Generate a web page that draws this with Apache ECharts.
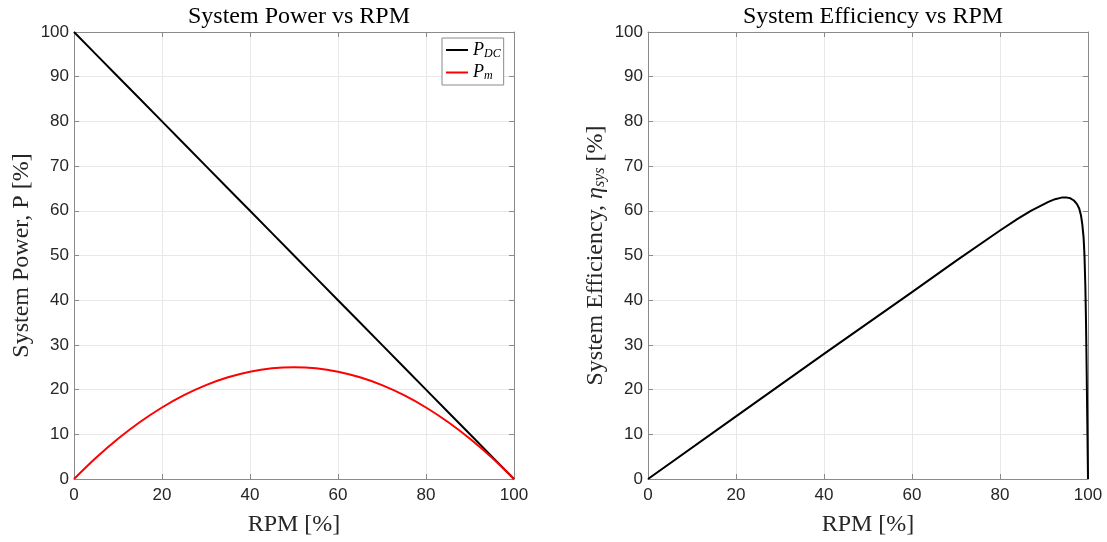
<!DOCTYPE html>
<html><head><meta charset="utf-8">
<script src="https://cdn.jsdelivr.net/npm/echarts@6/dist/echarts.min.js"></script>
<style>html,body{margin:0;padding:0;background:#fff}#c{width:1107px;height:542px}</style>
</head><body><div id="c"></div>
<script>
// Left chart data
var rpm = [0,5,10,15,20,25,30,35,40,45,50,55,60,65,70,75,80,85,90,95,100];
var pDC = [100,95,90,85,80,75,70,65,60,55,50,45,40,35,30,25,20,15,10,5,0];
var pM  = [0,4.75,9,12.75,16,18.75,21,22.75,24,24.75,25,24.75,24,22.75,21,18.75,16,12.75,9,4.75,0];
// Right chart data
var effRpm = [0,20,40,60,70,80,84,87,89,91,92.5,94,95,96,96.8,97.5,98,98.4,98.7,99,99.2,99.4,99.55,99.7,99.85,100];
var effVal = [0,14,28,41.8,48.8,55.6,58.2,60.0,61.0,62.0,62.6,62.95,63.0,62.8,62.3,61.5,60.5,59.0,57.0,54.0,50,43,35,24,12,0];
var ticksX = [0,20,40,60,80,100];
var ticksY = [0,10,20,30,40,50,60,70,80,90,100];

function pairs(xs, ys){ return xs.map(function(x,i){return [x, ys[i]];}); }

var axisCol = '#8a8a8a', labCol = '#262626', gridCol = '#e8e8e8';
var serif = 'Liberation Serif';
var sans = 'Liberation Sans';

function mkX(gi, pos, withLabels){
  return {
    type:'value', gridIndex:gi, position:pos, min:0, max:100, interval:20,
    axisLine:{show:true, onZero:false, lineStyle:{color:axisCol, width:1}},
    axisTick:{show:true, inside:true, length:5, lineStyle:{color:axisCol}},
    axisLabel:{show:withLabels, color:labCol, fontFamily:sans, fontSize:17, margin:8},
    splitLine:{show:withLabels, lineStyle:{color:gridCol, width:1}},
    name: withLabels ? 'RPM [%]' : '',
    nameLocation:'middle', nameGap:34,
    nameTextStyle:{fontFamily:serif, fontSize:24, color:labCol}
  };
}
function mkY(gi, pos, withLabels, name){
  return {
    type:'value', gridIndex:gi, position:pos, min:0, max:100, interval:10,
    axisLine:{show:true, onZero:false, lineStyle:{color:axisCol, width:1}},
    axisTick:{show:true, inside:true, length:5, lineStyle:{color:axisCol}},
    axisLabel:{show:withLabels, color:labCol, fontFamily:sans, fontSize:17, margin:5},
    splitLine:{show:withLabels, lineStyle:{color:gridCol, width:1}},
    name: withLabels ? name : '',
    nameLocation:'middle', nameGap:40, nameRotate:90,
    nameTextStyle:{fontFamily:serif, fontSize:24, color:labCol,
      rich:{
        i:{fontFamily:serif, fontSize:24, fontStyle:'italic', color:labCol},
        s:{fontFamily:serif, fontSize:16, fontStyle:'italic', color:labCol, padding:[9,0,0,0]}
      }}
  };
}

var chart = echarts.init(document.getElementById('c'), null, {renderer:'canvas'});
chart.setOption({
  animation:false,
  backgroundColor:'#fff',
  title:[
    {text:'System Power vs RPM', left:294, top:0, textAlign:'center',
     textStyle:{fontFamily:serif, fontSize:24, fontWeight:'normal', color:'#000'}},
    {text:'System Efficiency vs RPM', left:868, top:0, textAlign:'center',
     textStyle:{fontFamily:serif, fontSize:24, fontWeight:'normal', color:'#000'}}
  ],
  grid:[
    {left:74, top:32, width:440, height:451},
    {left:648, top:32, width:440, height:451}
  ],
  legend:{
    show:true, left:442, top:38, orient:'vertical',
    data:['P_DC','P_m'],
    backgroundColor:'#fff', borderColor:'#8a8a8a', borderWidth:1,
    padding:[3,3,3,4], itemGap:4, itemWidth:22, itemHeight:12,
    icon:'path://M0,5L22,5L22,7L0,7Z',
    formatter:function(n){ return n==='P_DC' ? '{i|P}{s|DC}' : '{i|P}{s|m}'; },
    textStyle:{color:'#000', fontFamily:serif, fontSize:18,
      rich:{
        i:{fontFamily:serif, fontSize:18, fontStyle:'italic', color:'#000'},
        s:{fontFamily:serif, fontSize:12, fontStyle:'italic', color:'#000', padding:[7,0,0,0]}
      }}
  },
  xAxis:[mkX(0,'bottom',true), mkX(0,'top',false), mkX(1,'bottom',true), mkX(1,'top',false)],
  yAxis:[mkY(0,'left',true,'System Power, P [%]'), mkY(0,'right',false,''),
         mkY(1,'left',true,'System Efficiency, {i|η}{s|sys} [%]'), mkY(1,'right',false,'')],
  series:[
    {name:'P_DC', type:'line', xAxisIndex:0, yAxisIndex:0, data:pairs(rpm,pDC),
     showSymbol:false, lineStyle:{color:'#000', width:2}, itemStyle:{color:'#000'}},
    {name:'P_m', type:'line', xAxisIndex:0, yAxisIndex:0, data:pairs(rpm,pM),
     showSymbol:false, smooth:0.3, lineStyle:{color:'#ff0000', width:2}, itemStyle:{color:'#ff0000'}},
    {name:'eta', type:'line', xAxisIndex:2, yAxisIndex:2, data:pairs(effRpm,effVal),
     showSymbol:false, smooth:false, lineStyle:{color:'#000', width:2, join:'round'}, itemStyle:{color:'#000'}}
  ]
});
</script></body></html>
